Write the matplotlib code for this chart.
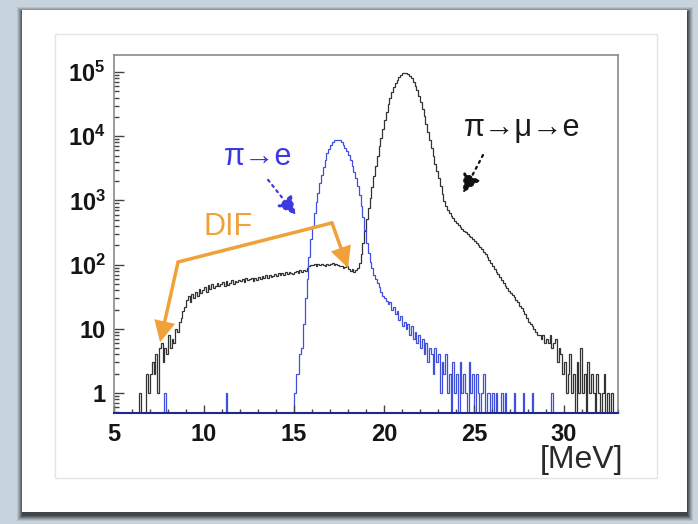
import numpy as np
import matplotlib
matplotlib.use("Agg")
import matplotlib.pyplot as plt
from matplotlib.patches import Rectangle
from matplotlib.ticker import FixedLocator, FixedFormatter, NullFormatter, LogLocator, MultipleLocator

plt.rcParams['font.family'] = ['Liberation Sans', 'DejaVu Sans']
plt.rcParams['mathtext.fontset'] = 'custom'
plt.rcParams['mathtext.rm'] = 'Liberation Sans'
plt.rcParams['mathtext.bf'] = 'Liberation Sans:bold'

# ---------------- data ----------------
x_min, x_max = 5.0, 33.0
bin_width = 0.1

# pi -> mu -> e (black), counts per 0.1 MeV bin starting at 5.0 MeV (one row per MeV)
black_counts = [
    0, 0, 0, 0, 0, 0, 0, 0, 0, 0,                                   # 5
    0, 0, 0, 0, 1, 0, 0, 0, 2, 1,                                   # 6
    2, 3, 2, 4, 1, 5, 6, 3, 5, 4,                                   # 7
    8, 5, 7, 6, 10, 9, 13, 15, 19, 22,                              # 8
    28, 32, 26, 35, 30, 38, 33, 42, 36, 40,                         # 9
    45, 38, 48, 42, 50, 44, 47, 52, 46, 50,                         # 10
    53, 47, 55, 49, 52, 57, 50, 56, 53, 58,                         # 11
    55, 60, 54, 62, 57, 59, 63, 56, 61, 58,                         # 12
    64, 60, 66, 61, 68, 63, 70, 65, 67, 72,                         # 13
    66, 73, 69, 75, 70, 76, 72, 78, 74, 71,                         # 14
    77, 80, 75, 82, 78, 84, 80, 88, 96, 100,                        # 15
    98, 102, 97, 101, 99, 103, 100, 96, 104, 100,                   # 16
    101, 105, 99, 103, 98, 94, 96, 90, 93, 97,                      # 17
    85, 80, 86, 78, 82, 88, 105, 145, 220, 340,                     # 18
    520, 760, 1100, 1600, 2400, 3500, 5000, 7000, 9500, 13000,      # 19
    18000, 24000, 31500, 40000, 49000, 58000, 67000, 76000, 84000, 90500,  # 20
    95000, 97500, 96500, 93000, 87000, 79500, 71000, 61500, 52000, 43000,  # 21
    34500, 27000, 20500, 15500, 11500, 8600, 6500, 4900, 3700, 2850,  # 22
    2200, 1650, 1250, 980, 820, 720, 640, 580, 530, 485,            # 23
    440, 410, 385, 360, 338, 318, 300, 283, 267, 250,               # 24
    235, 220, 205, 190, 175, 160, 145, 132, 120, 108,               # 25
    96, 86, 78, 71, 64, 58, 52, 47, 43, 39,                         # 26
    36, 34, 31, 28, 26, 23, 21, 19, 17, 15,                         # 27
    13, 12, 11, 10, 9, 8, 8, 7, 8, 6,                               # 28
    7, 6, 8, 5, 6, 7, 3, 5, 4, 2,                                   # 29
    3, 1, 2, 4, 1, 2, 0, 3, 1, 5,                                   # 30
    1, 2, 0, 3, 1, 2, 1, 0, 2, 1,                                   # 31
    0, 1, 2, 0, 1, 0, 1, 0, 0, 0,                                   # 32
]

# pi -> e (blue)
blue_counts = [
    0, 0, 0, 0, 0, 0, 0, 0, 0, 0,                                   # 5
    0, 0, 0, 0, 0, 0, 0, 0, 0, 0,                                   # 6
    0, 0, 0, 0, 0, 0, 0, 0, 1, 0,                                   # 7
    0, 0, 0, 0, 0, 0, 0, 0, 0, 0,                                   # 8
    0, 0, 0, 0, 0, 0, 0, 0, 0, 0,                                   # 9
    0, 0, 0, 0, 0, 0, 0, 0, 0, 0,                                   # 10
    0, 0, 1, 0, 0, 0, 0, 0, 0, 0,                                   # 11
    0, 0, 0, 0, 0, 0, 0, 0, 0, 0,                                   # 12
    0, 0, 0, 0, 0, 0, 0, 0, 0, 0,                                   # 13
    0, 0, 0, 0, 0, 0, 0, 0, 0, 0,                                   # 14
    1, 2, 2, 4, 5, 12, 30, 60, 130, 250,                            # 15
    400, 630, 950, 1300, 1850, 2500, 3300, 4250, 5500, 6400,        # 16
    7400, 8100, 8600, 8800, 8800, 8600, 8100, 7400, 6600, 5900,     # 17
    5100, 4300, 3500, 2800, 2200, 1650, 1200, 830, 560, 350,        # 18
    220, 150, 110, 90, 70, 60, 52, 45, 38, 33,                      # 19
    30, 27, 24, 26, 20, 22, 17, 19, 14, 16,                         # 20
    11, 13, 10, 12, 8, 11, 7, 9, 6, 8,                              # 21
    5, 7, 4, 6, 3, 5, 4, 2, 5, 3,                                   # 22
    4, 1, 3, 2, 4, 1, 2, 0, 3, 1,                                   # 23
    2, 0, 3, 1, 2, 1, 0, 3, 1, 2,                                   # 24
    0, 2, 1, 0, 1, 2, 0, 1, 1, 0,                                   # 25
    1, 0, 1, 0, 0, 1, 0, 1, 0, 0,                                   # 26
    0, 0, 1, 0, 0, 0, 0, 1, 0, 0,                                   # 27
    0, 0, 1, 0, 0, 0, 0, 0, 0, 0,                                   # 28
    0, 0, 0, 1, 0, 0, 0, 0, 0, 0,                                   # 29
    0, 0, 0, 0, 0, 0, 0, 0, 0, 0,                                   # 30
    0, 0, 0, 0, 0, 0, 0, 0, 0, 0,                                   # 31
    0, 0, 0, 0, 0, 0, 0, 0, 0, 0,                                   # 32
]

x_ticks = [5, 10, 15, 20, 25, 30]
x_tick_labels = ['5', '10', '15', '20', '25', '30']
y_ticks = [1, 10, 100, 1000, 10000, 100000]
y_tick_labels = ['1', '10', r'$\mathbf{10^{2}}$', r'$\mathbf{10^{3}}$',
                 r'$\mathbf{10^{4}}$', r'$\mathbf{10^{5}}$']
y_min, y_max = 0.49, 1.84e5
x_unit_label = '[MeV]'

# ---------------- figure ----------------
W, H = 698, 524
fig = plt.figure(figsize=(W / 100, H / 100), dpi=100, facecolor='#c7d4de')


def px_rect(x0, y0, x1, y1, **kw):
    return Rectangle((x0 / W, 1 - y1 / H), (x1 - x0) / W, (y1 - y0) / H,
                     transform=fig.transFigure, zorder=-10, **kw)


# card shadow (soft)
card = (22, 10, 687, 512)
for i, a in enumerate([0.10, 0.13, 0.17, 0.22, 0.30, 0.40]):
    g = 6 - i
    fig.patches.append(px_rect(card[0] - g + 1, card[1] - g + 3, card[2] + g,
                               card[3] + g + 3, facecolor='#202020',
                               edgecolor='none', alpha=a))
fig.patches.append(px_rect(*card, facecolor='white', edgecolor='none'))
# inner panel
fig.patches.append(px_rect(55, 34, 657, 478, facecolor='white',
                           edgecolor='#e4e4e4', linewidth=1.0))

ax = fig.add_axes([114 / W, 1 - 413 / H, (618 - 114) / W, (413 - 55) / H])
ax.set_zorder(5)
ax.set_facecolor('white')

edges = x_min + bin_width * np.arange(len(black_counts) + 1)
black = np.asarray(black_counts, dtype=float)
blue = np.asarray(blue_counts, dtype=float)
black_plot = np.where(black > 0, black, y_min)
blue_plot = np.where(blue > 0, blue, y_min)

ax.stairs(black_plot, edges, baseline=None, color='#333333', linewidth=0.9)
ax.stairs(blue_plot, edges, baseline=None, color='#4050dc', linewidth=0.9)

ax.set_yscale('log')
ax.set_xlim(x_min, x_max)
ax.set_ylim(y_min, y_max)

ax.xaxis.set_major_locator(FixedLocator(x_ticks))
ax.xaxis.set_major_formatter(FixedFormatter(x_tick_labels))
ax.xaxis.set_minor_locator(MultipleLocator(1))
ax.yaxis.set_major_locator(FixedLocator(y_ticks))
ax.yaxis.set_major_formatter(FixedFormatter(y_tick_labels))
ax.yaxis.set_minor_locator(LogLocator(base=10, subs=np.arange(2, 10), numticks=20))
ax.yaxis.set_minor_formatter(NullFormatter())

ax.tick_params(axis='both', which='both', direction='in', colors='#444444',
               labelcolor='#151515', top=False, right=False)
ax.tick_params(axis='x', which='major', length=6, width=1, pad=7, labelsize=17)
ax.tick_params(axis='x', which='minor', length=3, width=1)
ax.tick_params(axis='y', which='major', length=7, width=1, pad=6, labelsize=17)
ax.tick_params(axis='y', which='minor', length=3.5, width=1)
for lab in ax.get_xticklabels() + ax.get_yticklabels():
    lab.set_fontweight('bold')

for s in ['top', 'right', 'left']:
    ax.spines[s].set_color('#8a8a8a')
    ax.spines[s].set_linewidth(1.2)
ax.spines['bottom'].set_color('#1c2a8a')
ax.spines['bottom'].set_linewidth(1.5)

# unit label
fig.text(623 / W, 1 - 460 / H, x_unit_label, ha='right', va='center',
         fontsize=23, color='#2a2a2a', zorder=6)

# annotations
label_fs = 22
blue_c = '#3a3ae0'
ax.text(13.0, 4800, 'π→e', color=blue_c, fontsize=label_fs, ha='center', va='center')
ax.annotate('', xy=(15.11, 590), xytext=(13.56, 2090),
            arrowprops=dict(arrowstyle='-|>,head_length=0.8,head_width=0.4',
                            linestyle=(0, (1.0, 2.0)), color=blue_c, lw=1.6,
                            mutation_scale=14, shrinkA=0, shrinkB=0))

ax.text(27.67, 1.35e4, 'π→μ→e', color='#1a1a1a', fontsize=label_fs,
        ha='center', va='center')
ax.annotate('', xy=(24.39, 1300), xytext=(25.5, 5100),
            arrowprops=dict(arrowstyle='-|>,head_length=0.8,head_width=0.4',
                            linestyle=(0, (1.0, 2.0)), color='#111111', lw=1.6,
                            mutation_scale=14, shrinkA=0, shrinkB=0))

orange = '#f0a13a'
ax.text(11.33, 390, 'DIF', color=orange, fontsize=label_fs, ha='center', va='center')
ax.plot([8.56, 17.11], [110, 447], color=orange, lw=2.5, solid_capstyle='round')
ax.annotate('', xy=(7.56, 6.2), xytext=(8.56, 110),
            arrowprops=dict(arrowstyle='-|>,head_length=0.8,head_width=0.4',
                            color=orange, lw=2.5, mutation_scale=14,
                            shrinkA=0, shrinkB=0, joinstyle='miter'))
ax.annotate('', xy=(18.0, 89), xytext=(17.11, 447),
            arrowprops=dict(arrowstyle='-|>,head_length=0.8,head_width=0.4',
                            color=orange, lw=2.5, mutation_scale=14,
                            shrinkA=0, shrinkB=0, joinstyle='miter'))

fig.savefig('out.png', dpi=100, facecolor=fig.get_facecolor())
